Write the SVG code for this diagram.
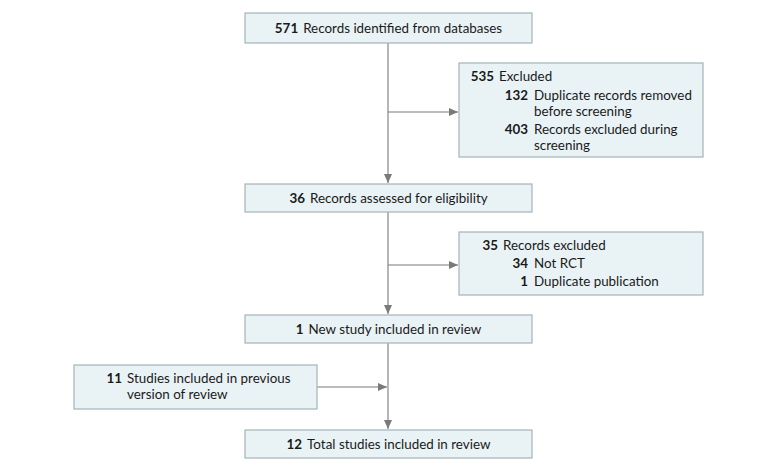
<svg xmlns="http://www.w3.org/2000/svg" width="780" height="472" viewBox="0 0 780 472">
<defs>
<style>
.box{fill:#e9f3f6;stroke:#a3b5b9;stroke-width:1.2}
text{font-family:Lato,"Open Sans","Liberation Sans",sans-serif;font-size:13.4px;fill:#1a1a1a}
.b{font-weight:bold}
.c{text-anchor:middle}
.r{text-anchor:end}
.ln{stroke:#7a7a7a;stroke-width:1.1;fill:none}
</style>
<marker id="ah" markerWidth="10" markerHeight="8" refX="9" refY="4" orient="auto" markerUnits="userSpaceOnUse">
<path d="M0,0 L9,4 L0,8 Z" fill="#7a7a7a"/>
</marker>
</defs>
<rect width="780" height="472" fill="#fff"/>
<g id="connectors">
<path class="ln" d="M388,43 V183" marker-end="url(#ah)"/>
<path class="ln" d="M388,112 H458" marker-end="url(#ah)"/>
<path class="ln" d="M388,212 V314" marker-end="url(#ah)"/>
<path class="ln" d="M388,265 H458" marker-end="url(#ah)"/>
<path class="ln" d="M388,343 V429" marker-end="url(#ah)"/>
<path class="ln" d="M317,387 H387" marker-end="url(#ah)"/>
</g>
<g id="n1">
<rect class="box" x="245" y="13" width="287" height="30"/>
<text class="c" x="388.5" y="33"><tspan class="b">571</tspan><tspan dx="5">Records identified from databases</tspan></text>
</g>
<g id="n2">
<rect class="box" x="459" y="63" width="244" height="94"/>
<text class="r b" x="494" y="81">535</text><text x="499" y="81">Excluded</text>
<text class="r b" x="528" y="100">132</text><text x="534" y="100">Duplicate records removed</text>
<text x="534" y="116">before screening</text>
<text class="r b" x="528" y="134">403</text><text x="534" y="134">Records excluded during</text>
<text x="534" y="150">screening</text>
</g>
<g id="n3">
<rect class="box" x="245" y="184" width="287" height="28"/>
<text class="c" x="388.5" y="203"><tspan class="b">36</tspan><tspan dx="5">Records assessed for eligibility</tspan></text>
</g>
<g id="n4">
<rect class="box" x="459" y="232" width="244" height="63"/>
<text class="r b" x="498" y="250">35</text><text x="503" y="250">Records excluded</text>
<text class="r b" x="528" y="268">34</text><text x="534" y="268">Not RCT</text>
<text class="r b" x="528" y="286">1</text><text x="534" y="286">Duplicate publication</text>
</g>
<g id="n5">
<rect class="box" x="245" y="315" width="287" height="28"/>
<text class="c" x="388.5" y="334"><tspan class="b">1</tspan><tspan dx="5">New study included in review</tspan></text>
</g>
<g id="n6">
<rect class="box" x="74" y="365" width="243" height="44"/>
<text class="r b" x="122" y="383">11</text><text x="127" y="383">Studies included in previous</text>
<text x="127" y="399">version of review</text>
</g>
<g id="n7">
<rect class="box" x="245" y="430" width="287" height="28"/>
<text class="c" x="388.5" y="449"><tspan class="b">12</tspan><tspan dx="5">Total studies included in review</tspan></text>
</g>
</svg>
